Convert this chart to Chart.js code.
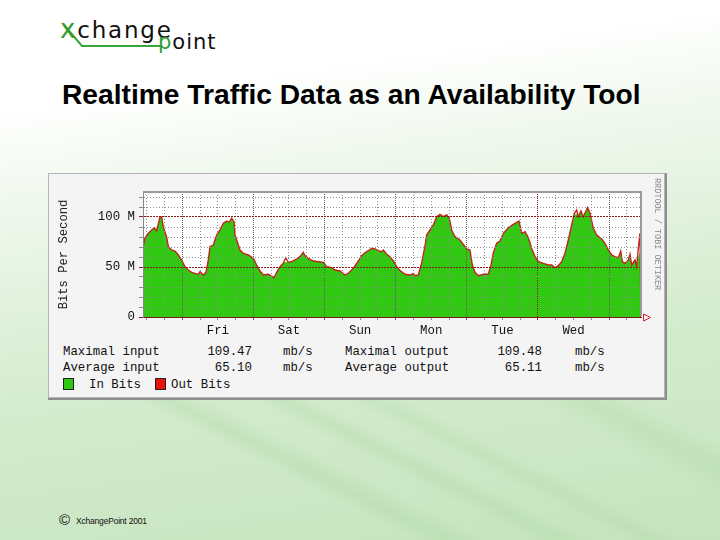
<!DOCTYPE html>
<html><head><meta charset="utf-8">
<script src="https://cdn.jsdelivr.net/npm/chart.js@4.4.1/dist/chart.umd.min.js"></script>
<style>
html,body{margin:0;padding:0;}
body{width:720px;height:540px;position:relative;overflow:hidden;font-family:"Liberation Sans",Arial,sans-serif;
 background:
  linear-gradient(26.6deg, rgba(0,0,0,0) 40%, rgba(150,205,140,0.22) 43%, rgba(0,0,0,0) 47%, rgba(0,0,0,0) 51%, rgba(150,205,140,0.2) 54%, rgba(0,0,0,0) 57%, rgba(0,0,0,0) 60%, rgba(150,205,140,0.16) 63%, rgba(0,0,0,0) 66%, rgba(0,0,0,0) 78%, rgba(150,205,140,0.2) 83%, rgba(0,0,0,0) 88%) 0 380px / 720px 160px no-repeat,
  linear-gradient(172deg, #ffffff 0%, #ffffff 17%, #f2f9f0 30%, #e2f2de 47%, #d3ebcd 66%, #c6e4be 100%);}
.abs{position:absolute;white-space:nowrap;}
#title{left:62px;top:80px;font-size:28.2px;line-height:28px;font-weight:bold;color:#000;}
#box{left:48px;top:173px;width:615px;height:223px;background:#f4f4f4;border:1px solid #b4b4b4;box-shadow:1px 1px 0 1px #8e8e8e;}
#c{position:absolute;left:50px;top:175px;}
.mono{font-family:"Liberation Mono","DejaVu Sans Mono",monospace;font-size:12.4px;line-height:16px;color:#111;}
.sq{position:absolute;width:9px;height:10px;border:1px solid #202020;}
#rrd{left:652px;top:178px;writing-mode:vertical-rl;font-family:"Liberation Mono",monospace;font-size:8.5px;color:#8a8a8a;}
.logo{font-family:"DejaVu Sans",sans-serif;line-height:24px;color:#111;}
</style></head><body>

<svg class="abs" style="left:0;top:0" width="240" height="60">
  <path d="M64 25 L82 46 L160 46" stroke="#3aa63a" stroke-width="2" fill="none"/>
</svg>
<div class="abs logo" style="left:60px;top:17px;font-size:23px;letter-spacing:1.8px;"><span style="color:#2f9f2f;font-size:26px">x</span>change</div>
<div class="abs logo" style="left:158px;top:30px;font-size:21px;letter-spacing:1px;"><span style="color:#2f9f2f">p</span>oint</div>

<div class="abs" id="title">Realtime Traffic Data as an Availability Tool</div>

<div class="abs" id="box"></div>
<canvas id="c" width="610" height="162"></canvas>
<div class="abs" id="rrd">RRDTOOL / TOBI OETIKER</div>

<div id="stats"></div>

<div class="abs" style="left:59px;top:511px;font-size:15px;color:#111;">©</div>
<div class="abs" style="left:76px;top:516px;font-size:8.5px;letter-spacing:-0.2px;color:#111;">XchangePoint 2001</div>

<script>
// ---- data (hours counted from Thursday 00:00) ----
const hours = [10.75,11.42,12.55,13.67,14.57,15.36,16.48,17.05,17.61,18.73,
 19.30,20.42,21.55,22.67,23.79,24.92,26.04,27.17,28.29,29.42,
 29.98,31.10,32.00,32.79,33.35,34.48,35.60,36.73,37.85,38.98,
 39.76,40.66,41.45,41.79,42.35,43.47,44.60,46.28,47.97,49.10,
 50.22,51.34,53.03,54.91,55.84,56.97,58.09,58.88,59.78,60.90,
 62.59,63.71,64.84,65.40,66.52,68.21,69.90,71.58,72.71,74.40,
 75.52,77.21,78.89,80.02,81.71,83.39,84.52,85.64,86.77,87.89,
 89.02,90.14,91.27,91.83,92.95,94.08,95.20,96.33,97.45,99.14,
 100.82,101.95,102.51,103.63,104.76,105.88,106.45,107.57,108.70,109.82,
 110.94,112.07,113.19,114.09,114.88,116.00,117.69,118.81,119.94,121.06,
 121.85,122.75,123.87,125.56,127.25,128.15,128.94,130.06,131.18,132.31,
 134.00,135.68,136.81,137.59,138.49,139.62,140.74,141.86,142.99,144.11,
 145.80,147.49,148.61,149.73,150.86,151.98,153.11,154.23,155.36,156.26,
 157.04,157.60,158.50,159.29,160.08,160.75,161.55,162.67,163.80,165.48,
 166.61,167.73,168.86,169.98,171.11,171.90,172.46,173.36,174.48,175.04,
 175.61,176.73,177.29,177.85,178.41,178.75];

const inBits = [70,78.7,83.7,87,89,86,100.3,100,90,80,
 70.3,67,66,62,57,50.3,47,44.7,43.7,42.7,
 45.3,42,44.7,57,70.3,72,82,87,93.7,96,
 94.7,98.7,95.3,82,77,67,63.7,62,58.7,52,
 46,42,42.7,39.3,44.7,50.3,53.7,55,54.7,55.3,
 58,60.3,64.7,61.3,58.7,56,55.3,54.7,50.3,49.3,
 47,46,42,43.7,48.7,56,61.3,64.3,66.3,68.7,
 68,66.3,65.3,67,62.7,60.3,56,50.3,46.5,42.7,
 42,43.7,41.3,42,52,68.7,82,87,92,100.3,
 102.7,100.3,102,98.7,87,80.3,77,72.7,68,67,
 52,44.7,41.3,42.7,42.7,52,62,73.7,76,83.7,
 89.3,92.7,94.7,96,83.7,85.3,79.5,68.7,60.3,55.3,
 53.7,52,52,49.3,51.3,55.3,63.7,77,92,102,
 103,100.3,106,100.3,105.3,109.47,103.7,88.7,82,78,
 73.7,67,62,60.3,59.3,64,55.3,53.7,57,62.7,
 52,57,50.3,60,64,0];

const outBits = [70,78.7,83.7,87,89,86,100.3,100,90,80,
 70.3,67,66,62,57,50.3,47,44.7,43.7,42.7,
 45.3,42,44.7,57,70.3,72,82,87,93.7,96,
 94.7,98.7,95.3,82,77,67,63.7,62,58.7,52,
 46,42,42.7,39.3,44.7,50.3,53.7,59.3,54.7,55.3,
 58,60.3,64.7,61.3,58.7,56,55.3,54.7,50.3,49.3,
 47,46,42,43.7,48.7,56,61.3,64.3,66.3,68.7,
 68,66.3,65.3,67,62.7,60.3,56,50.3,46.5,42.7,
 42,43.7,41.3,42,54,71,82,87,92,100.3,
 102.7,100.3,102,98.7,87,80.3,77,72.7,68,67,
 52,44.7,41.3,42.7,42.7,52,64,73.7,76,83.7,
 89.3,92.7,94.7,96,83.7,85.3,79.5,68.7,60.3,55.3,
 53.7,52,52,49.3,51.3,55.3,63.7,77,92,103.5,
 107,100.3,106,100.3,105.3,109.48,103.7,88.7,82,78,
 73.7,67,62,60.3,59.3,66,55.3,53.7,57,62.7,
 52,57,50.3,68.7,83.7,0];

const dayLabels = ['Fri','Sat','Sun','Mon','Tue','Wed'];
const yLabelValues = [0, 50, 100];
const yLabelTexts = ['0', '50 M', '100 M'];
const seriesNames = ['In Bits', 'Out Bits'];
const statRows = [
  ['Maximal input', '109.47', 'mb/s', 'Maximal output', '109.48', 'mb/s'],
  ['Average input', '65.10', 'mb/s', 'Average output', '65.11', 'mb/s']
];

const GREEN = '#30c810', RED = '#c0241a', LEG_RED = '#e8140c';
const MONO = 'Liberation Mono';

// ---- stats & legend (HTML) ----
(function(){
  const s = document.getElementById('stats');
  const rowTops = [343.7, 359.7];
  statRows.forEach((r, i) => {
    const t = rowTops[i];
    const cells = [
      {txt:r[0], left:63}, {txt:r[1], right:252}, {txt:r[2], left:283},
      {txt:r[3], left:345}, {txt:r[4], right:542}, {txt:r[5], left:575}
    ];
    cells.forEach(c => {
      const d = document.createElement('div');
      d.className = 'abs mono';
      d.textContent = c.txt;
      d.style.top = t + 'px';
      if (c.right !== undefined) { d.style.right = (720 - c.right) + 'px'; }
      else d.style.left = c.left + 'px';
      s.appendChild(d);
    });
  });
  const legTop = 376.7;
  const items = [{color:GREEN, sq:63, txt:89}, {color:LEG_RED, sq:155, txt:171}];
  items.forEach((it, i) => {
    const q = document.createElement('div');
    q.className = 'sq'; q.style.left = it.sq + 'px'; q.style.top = (legTop + 1) + 'px';
    q.style.background = it.color; s.appendChild(q);
    const d = document.createElement('div');
    d.className = 'abs mono'; d.style.left = it.txt + 'px'; d.style.top = legTop + 'px';
    d.textContent = seriesNames[i]; s.appendChild(d);
  });
})();

// ---- grid styling ----
const DARKRED = '#8b1a14';
const gy = ctx => {
  const v = ctx.tick ? ctx.tick.value : undefined;
  if (v === undefined) return '#999';
  if (v === 0) return '#7a1a10';
  if (v === 50 || v === 100) return DARKRED;
  return '#8e8e8e';
};
const gx = ctx => {
  const v = ctx.tick ? ctx.tick.value : undefined;
  if (v === undefined) return '#999';
  if (v % 24 === 0) return v === 144 ? DARKRED : '#5e5e5e';
  return '#8e8e8e';
};
const dashY = ctx => {
  if (!ctx.tick) return [];
  const v = ctx.tick.value;
  return (v === 50 || v === 100 || v === 0) ? [2, 1] : [1, 2];
};
const dashX = ctx => {
  if (!ctx.tick) return [];
  return (ctx.tick.value % 24 === 0) ? [1, 1] : [1, 2];
};

const framePlugin = {
  id: 'frame',
  beforeDraw(c) {
    const a = c.chartArea, x = c.ctx;
    x.save(); x.fillStyle = '#ffffff';
    x.fillRect(a.left, a.top, a.right - a.left, a.bottom - a.top);
    x.restore();
  },
  afterDraw(c) {
    const a = c.chartArea, x = c.ctx;
    x.save();
    x.strokeStyle = '#9a9a9a'; x.lineWidth = 2;
    x.beginPath();
    x.moveTo(a.left, a.top); x.lineTo(a.right + 1, a.top);
    x.moveTo(a.right, a.top); x.lineTo(a.right, a.bottom - 1);
    x.stroke();
    const y0 = Math.round(a.bottom) + 0.5;
    x.strokeStyle = '#e02020'; x.lineWidth = 1;
    x.beginPath();
    x.moveTo(a.right + 2.5, y0 - 3.5); x.lineTo(a.right + 9.5, y0); x.lineTo(a.right + 2.5, y0 + 3.5);
    x.closePath(); x.stroke();
    x.restore();
  }
};

new Chart(document.getElementById('c'), {
  type: 'line',
  data: {
    datasets: [
      { label: seriesNames[0], data: hours.map((h, i) => ({x: h, y: inBits[i]})),
        backgroundColor: GREEN, borderWidth: 0, borderColor: GREEN, fill: 'origin', pointRadius: 0, order: 2 },
      { label: seriesNames[1], data: hours.map((h, i) => ({x: h, y: outBits[i]})),
        borderColor: RED, borderWidth: 1.4, fill: false, pointRadius: 0, order: 1 }
    ]
  },
  options: {
    responsive: false, animation: false, devicePixelRatio: 1,
    elements: { line: { tension: 0 } },
    layout: { padding: { top: 17, right: 19, left: 0, bottom: 0 } },
    plugins: { legend: { display: false }, tooltip: { enabled: false } },
    scales: {
      x: {
        type: 'linear', min: hours[0], max: hours[hours.length - 1],
        afterBuildTicks(ax) { const t = []; for (let v = Math.ceil(ax.min / 6) * 6; v <= ax.max; v += 6) t.push({value: v}); ax.ticks = t; },
        afterFit(ax) { ax.height = 20; },
        grid: { z: 1, color: gx, tickColor: gx, lineWidth: 1, tickLength: 3, drawTicks: true, tickBorderDash: [] },
        border: { display: true, color: '#7a1a10', width: 1, dash: dashX, z: 1 },
        ticks: { autoSkip: false, maxRotation: 0, padding: 3, color: '#111', font: { family: MONO, size: 12.4 },
          callback: v => (v % 24 === 12 && v >= 36) ? (dayLabels[(v - 36) / 24] || '') : '' }
      },
      y: {
        min: 0, max: 125,
        afterBuildTicks(ax) { const t = []; for (let v = 0; v <= ax.max; v += 10) t.push({value: v}); ax.ticks = t; },
        afterFit(ax) { ax.width = 93; },
        grid: { z: 1, color: gy, tickColor: gy, lineWidth: 1, tickLength: 4, drawTicks: true, tickBorderDash: [] },
        border: { display: true, color: '#8a8a8a', width: 1, dash: dashY, z: 1 },
        ticks: { autoSkip: false, padding: 4, color: '#111', font: { family: MONO, size: 12.4 },
          callback: v => { const i = yLabelValues.indexOf(v); return i < 0 ? '' : yLabelTexts[i]; } },
        title: { display: true, text: 'Bits Per Second', color: '#222', font: { family: MONO, size: 12.2 }, padding: { top: 6.6, bottom: 0 } }
      }
    }
  },
  plugins: [framePlugin]
});
</script>
</body></html>
